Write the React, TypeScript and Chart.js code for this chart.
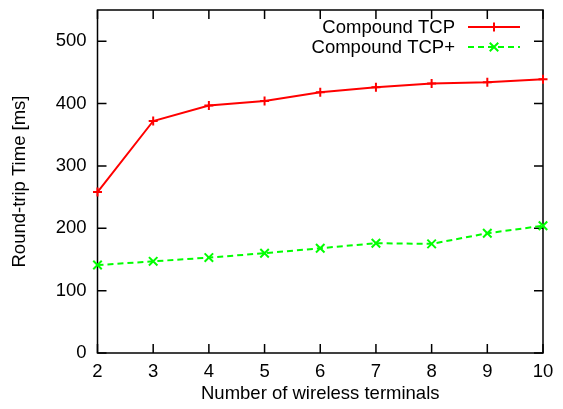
import { useEffect, useRef } from "react";
import { Chart, registerables } from "chart.js";

Chart.register(...registerables);

const terminals = [2, 3, 4, 5, 6, 7, 8, 9, 10];
const compoundTcp = [258, 372, 397, 404, 418, 426, 432, 434, 439];
const compoundTcpPlus = [141, 147, 153, 160, 168, 176, 175, 192, 204];
const seriesLabels = ["Compound TCP", "Compound TCP+"];
const yTickMax = 500;
const xTitle = "Number of wireless terminals";
const yTitle = "Round-trip Time [ms]";

const FONT = "'Liberation Sans', Arial, sans-serif";
const FS = 18.5;

function drawMarker(ctx: CanvasRenderingContext2D, style: string, cx: number, cy: number, r: number) {
  ctx.beginPath();
  if (style === "cross") {
    ctx.moveTo(cx - r, cy);
    ctx.lineTo(cx + r, cy);
    ctx.moveTo(cx, cy - r);
    ctx.lineTo(cx, cy + r);
  } else {
    const d = r * Math.SQRT1_2;
    ctx.moveTo(cx - d, cy - d);
    ctx.lineTo(cx + d, cy + d);
    ctx.moveTo(cx - d, cy + d);
    ctx.lineTo(cx + d, cy - d);
  }
  ctx.stroke();
}

const framePlugin = {
  id: "frameTicks",
  beforeDatasetsDraw(chart: any) {
    const { ctx, chartArea: a, scales } = chart;
    const x = scales.x;
    const y = scales.y;
    const L = 9;
    ctx.save();
    ctx.strokeStyle = "#000";
    ctx.lineWidth = 1.5;
    ctx.setLineDash([]);
    ctx.strokeRect(a.left, a.top, a.right - a.left, a.bottom - a.top);
    ctx.beginPath();
    x.ticks.forEach((t: any) => {
      const px = x.getPixelForValue(t.value);
      ctx.moveTo(px, a.bottom);
      ctx.lineTo(px, a.bottom - L);
      ctx.moveTo(px, a.top);
      ctx.lineTo(px, a.top + L);
    });
    y.ticks.forEach((t: any) => {
      const py = y.getPixelForValue(t.value);
      ctx.moveTo(a.left, py);
      ctx.lineTo(a.left + L, py);
      ctx.moveTo(a.right, py);
      ctx.lineTo(a.right - L, py);
    });
    ctx.stroke();
    ctx.restore();
  },
};

const legendPlugin = {
  id: "gnuLegend",
  afterDatasetsDraw(chart: any) {
    const { ctx, chartArea: a } = chart;
    ctx.save();
    chart.data.datasets.forEach((ds: any, i: number) => {
      const yy = a.top + 17 + 20 * i;
      ctx.font = `${FS}px ${FONT}`;
      ctx.fillStyle = "#000";
      ctx.textAlign = "right";
      ctx.textBaseline = "middle";
      ctx.fillText(ds.label, a.right - 88, yy + 1);
      ctx.strokeStyle = ds.borderColor;
      ctx.lineWidth = ds.borderWidth;
      ctx.setLineDash(ds.borderDash || []);
      ctx.beginPath();
      ctx.moveTo(a.right - 75, yy);
      ctx.lineTo(a.right - 23, yy);
      ctx.stroke();
      ctx.setLineDash([]);
      ctx.lineWidth = ds.pointBorderWidth;
      drawMarker(ctx, ds.pointStyle, a.right - 49, yy, ds.pointRadius);
    });
    ctx.restore();
  },
};

export default function App() {
  const ref = useRef<HTMLCanvasElement>(null);

  useEffect(() => {
    document.body.style.margin = "0";
    const canvas = ref.current!;
    const chart = new Chart(canvas, {
      type: "line",
      data: {
        datasets: [
          {
            label: seriesLabels[0],
            data: terminals.map((t, i) => ({ x: t, y: compoundTcp[i] })),
            borderColor: "#ff0000",
            backgroundColor: "#ff0000",
            borderWidth: 2,
            pointStyle: "cross",
            pointRadius: 4.5,
            pointBorderWidth: 2,
            pointBorderColor: "#ff0000",
            clip: false,
          } as any,
          {
            label: seriesLabels[1],
            data: terminals.map((t, i) => ({ x: t, y: compoundTcpPlus[i] })),
            borderColor: "#00ff00",
            backgroundColor: "#00ff00",
            borderWidth: 2,
            borderDash: [6, 4],
            pointStyle: "crossRot",
            pointRadius: 6,
            pointBorderWidth: 2,
            pointBorderColor: "#00ff00",
            clip: false,
          } as any,
        ],
      },
      options: {
        responsive: false,
        animation: false,
        devicePixelRatio: 1,
        layout: { padding: { top: 0, right: 20, left: 0, bottom: 0 } },
        plugins: {
          legend: { display: false },
          tooltip: { enabled: false },
        },
        scales: {
          x: {
            type: "linear",
            min: terminals[0],
            max: terminals[terminals.length - 1],
            grid: { display: false, drawTicks: false },
            border: { display: false },
            ticks: {
              stepSize: 1,
              color: "#000",
              padding: 8,
              font: { family: FONT, size: FS },
            },
            title: {
              display: true,
              text: xTitle,
              color: "#000",
              font: { family: FONT, size: FS },
              padding: { top: 0, bottom: 4 },
            },
            afterFit: (s: any) => {
              s.height = 56;
            },
          },
          y: {
            type: "linear",
            min: 0,
            max: 550,
            grid: { display: false, drawTicks: false },
            border: { display: false },
            ticks: {
              stepSize: 100,
              color: "#000",
              padding: 11,
              font: { family: FONT, size: FS },
            },
            afterBuildTicks: (s: any) => {
              s.ticks = s.ticks.filter((t: any) => t.value <= yTickMax);
            },
            title: {
              display: true,
              text: yTitle,
              color: "#000",
              font: { family: FONT, size: FS },
              padding: { top: 9, bottom: 0 },
            },
            afterFit: (s: any) => {
              s.width = 97.5;
              s.paddingTop = 10;
            },
          },
        },
      },
      plugins: [framePlugin, legendPlugin],
    });
    return () => chart.destroy();
  }, []);

  return <canvas ref={ref} width={563} height={409} style={{ display: "block" }} />;
}
